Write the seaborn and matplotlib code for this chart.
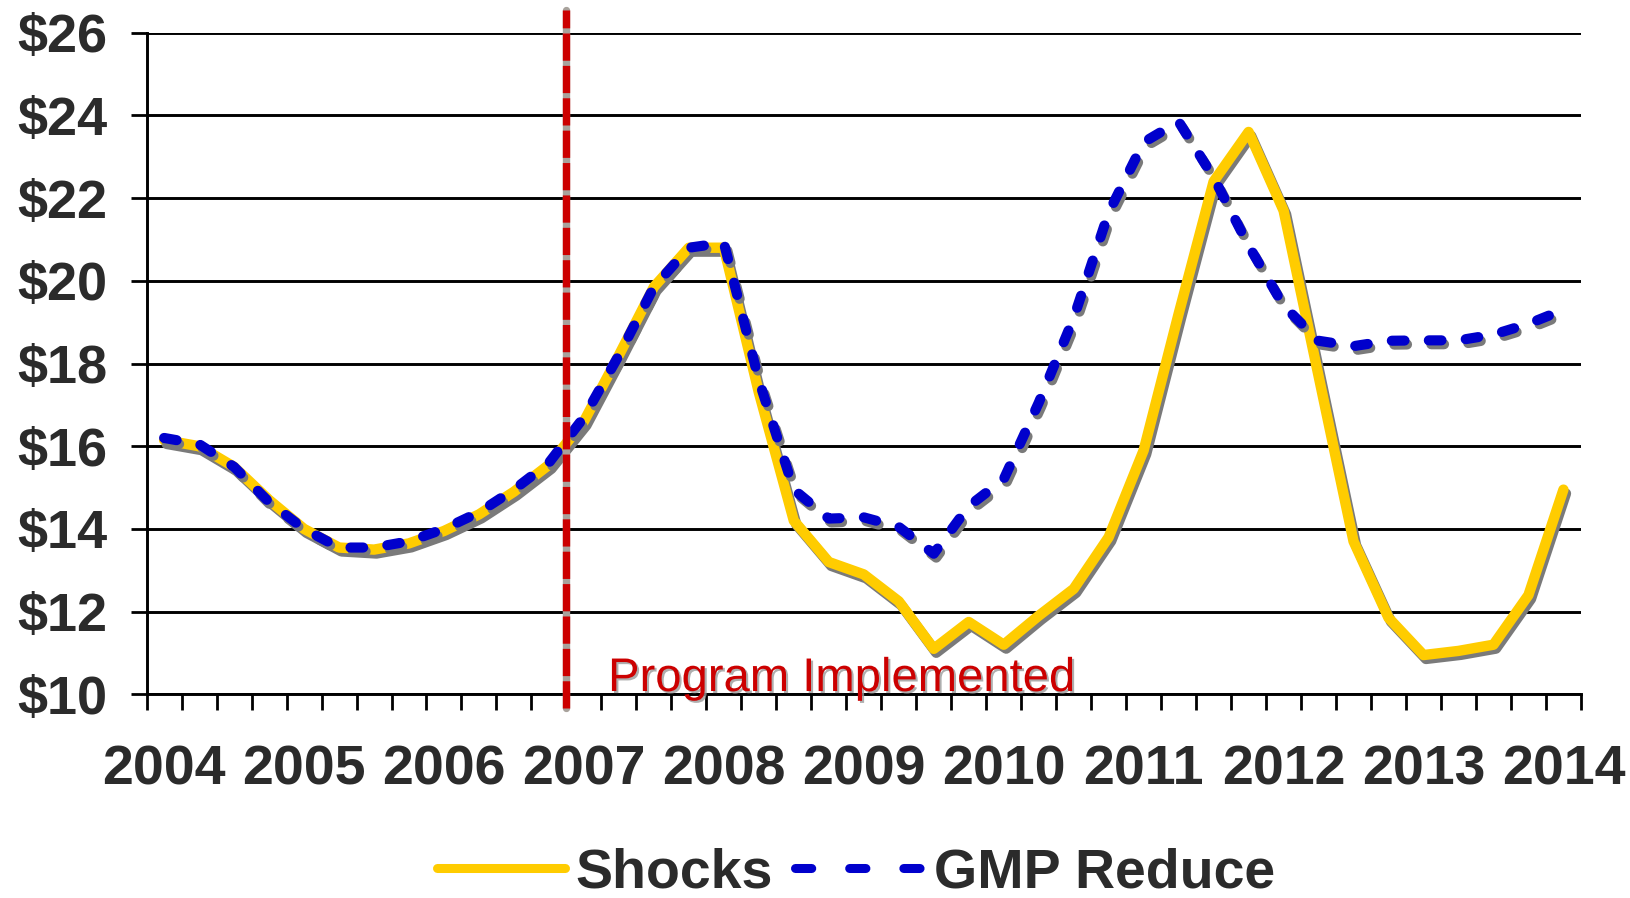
import matplotlib
matplotlib.use("Agg")
import matplotlib.pyplot as plt
import matplotlib.patheffects as pe
from matplotlib.lines import Line2D
from matplotlib.font_manager import FontProperties
import numpy as np
import pandas as pd
import seaborn as sns

# quarterly series, 2004Q1 .. 2014Q1
years = [2004, 2005, 2006, 2007, 2008, 2009, 2010, 2011, 2012, 2013, 2014]
quarters = [f"{y}Q{q}" for y in years for q in (1, 2, 3, 4)][:41]

shocks = [16.15, 16.0, 15.5, 14.7, 14.0, 13.55, 13.5, 13.65, 13.95, 14.35,
          14.9, 15.55, 16.6, 18.2, 19.85, 20.8, 20.8, 17.3, 14.2, 13.2,
          12.9, 12.25, 11.1, 11.75, 11.2, 11.9, 12.55, 13.8, 15.9, 19.2,
          22.4, 23.6, 21.7, 17.7, 13.7, 11.85, 10.95, 11.05, 11.2, 12.4,
          14.95]
gmp_reduce = [16.2, 16.05, 15.5, 14.65, 14.0, 13.55, 13.55, 13.7, 14.0, 14.4,
              14.95, 15.6, 16.7, 18.2, 19.85, 20.8, 20.92, 17.6, 14.95, 14.25,
              14.28, 14.05, 13.4, 14.55, 15.2, 17.05, 19.1, 21.65, 23.35, 23.85,
              22.5, 20.85, 19.4, 18.55, 18.42, 18.55, 18.56, 18.56, 18.7, 18.96,
              19.3]
program_start = "2007Q1"
y_ticks = [10, 12, 14, 16, 18, 20, 22, 24, 26]

GOLD = "#FFCC00"
BLUE = "#0000CC"
RED = "#CC0000"
TXT = "#2b2b2b"
BLUE_DASH = (0, (1.25, 2.4))

df = pd.DataFrame({
    "quarter": quarters,
    "pos": np.arange(len(quarters)),
    "Shocks": shocks,
    "GMP Reduce": gmp_reduce,
})

sns.set_style("white")
plt.rcParams["font.family"] = ["Liberation Sans", "DejaVu Sans"]

fig = plt.figure(figsize=(16.31, 8.98), dpi=100)
ax = fig.add_axes([0.0899, 0.2268, 0.8794, 0.7368])

shadow = [pe.SimpleLineShadow(offset=(1.8, -2.8), shadow_color="#7a7a7a", alpha=1.0),
          pe.Normal()]

sns.lineplot(data=df, x="pos", y="Shocks", ax=ax, color=GOLD, linewidth=7.5,
             solid_capstyle="round", solid_joinstyle="round",
             path_effects=shadow, zorder=3)
sns.lineplot(data=df, x="pos", y="GMP Reduce", ax=ax, color=BLUE, linewidth=7.3,
             linestyle=BLUE_DASH, dash_capstyle="round",
             solid_joinstyle="round", path_effects=shadow, zorder=4)

# program start line, on the boundary before 2007Q1
xp = quarters.index(program_start) - 0.5
ax.plot([xp, xp], [9.67, 26.55], color="#a8a29c", lw=5.3, clip_on=False, zorder=5)
ax.plot([xp, xp], [9.67, 26.55], color=RED, lw=5.3, linestyle=(0, (3.7, 0.7)),
        clip_on=False, zorder=6)
ax.text(xp + 1.19, 10.08, "Program Implemented", color=RED, fontsize=34,
        ha="left", va="baseline", zorder=7,
        path_effects=[pe.withSimplePatchShadow(offset=(1.5, -1.5),
                                               shadow_rgbFace="#9a9a9a", alpha=0.8)])

ax.set_xlim(-0.5, len(quarters) - 0.5)
ax.set_ylim(10, 26)
ax.set_xlabel("")
ax.set_ylabel("")

ax.set_yticks(y_ticks)
ax.set_yticklabels([rf"\${v}" for v in y_ticks], fontweight="bold")
year_pos = [quarters.index(f"{y}Q1") for y in years]
ax.set_xticks(year_pos)
ax.set_xticklabels([str(y) for y in years], fontweight="bold")
ax.set_xticks(np.arange(-0.5, len(quarters)), minor=True)

ax.tick_params(axis="y", direction="out", length=11.5, width=2, color="black",
               pad=17, labelsize=39, labelcolor=TXT, left=True)
ax.tick_params(axis="x", which="major", length=0, pad=36, labelsize=40,
               labelcolor=TXT)
ax.tick_params(axis="x", which="minor", direction="out", length=11.3, width=2,
               color="black", bottom=True)

ax.yaxis.grid(True, color="black", linewidth=2.1)
ax.xaxis.grid(False)
for side in ("top", "right"):
    ax.spines[side].set_visible(False)
for side in ("left", "bottom"):
    ax.spines[side].set_color("black")
    ax.spines[side].set_linewidth(2.1)

handles = [
    Line2D([], [], color=GOLD, lw=6.5, solid_capstyle="round"),
    Line2D([], [], color=BLUE, lw=6.5, linestyle=(0, (1.8, 4.2)),
           dash_capstyle="round"),
]
fig.legend(handles, ["Shocks", "GMP Reduce"], loc="center",
           bbox_to_anchor=(856 / 1631, 1 - 873 / 898), ncol=2, frameon=False,
           prop=FontProperties(family="Liberation Sans", weight="bold", size=40),
           handlelength=2.3, handletextpad=0.2, columnspacing=0.4,
           labelcolor=TXT)

fig.savefig("out.png", dpi=100)
